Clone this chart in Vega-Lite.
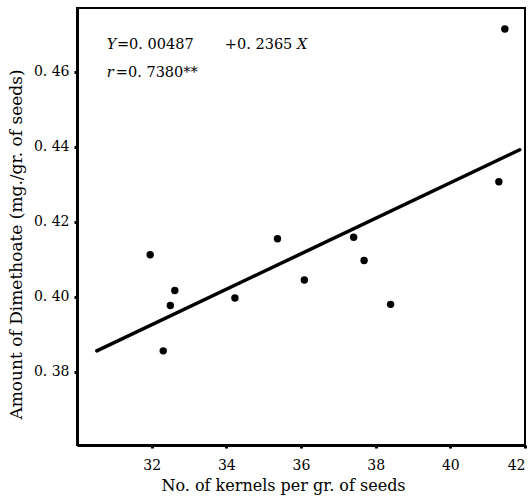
{
  "$schema": "https://vega.github.io/schema/vega-lite/v6.json",
  "width": 448,
  "height": 437,
  "autosize": "none",
  "padding": {"left": 77, "top": 8, "right": 6, "bottom": 57},
  "background": "white",
  "config": {
    "view": {"stroke": "black", "strokeWidth": 2},
    "font": "DejaVu Serif"
  },
  "datasets": {
    "pts": [
      {"kernels": 31.96, "dimethoate": 0.4112},
      {"kernels": 32.62, "dimethoate": 0.4017},
      {"kernels": 32.5, "dimethoate": 0.3977},
      {"kernels": 32.31, "dimethoate": 0.3856},
      {"kernels": 34.23, "dimethoate": 0.3997},
      {"kernels": 35.37, "dimethoate": 0.4155},
      {"kernels": 36.09, "dimethoate": 0.4045},
      {"kernels": 37.41, "dimethoate": 0.4159},
      {"kernels": 37.69, "dimethoate": 0.4097},
      {"kernels": 38.4, "dimethoate": 0.398},
      {"kernels": 41.46, "dimethoate": 0.4714},
      {"kernels": 41.3, "dimethoate": 0.4307}
    ],
    "fit": [
      {"kernels": 30.53, "dimethoate": 0.3856},
      {"kernels": 41.86, "dimethoate": 0.4392}
    ],
    "italic": [
      {"kernels": 30.8, "dimethoate": 0.4672, "label": "Y"},
      {"kernels": 30.8, "dimethoate": 0.4597, "label": "r"},
      {"kernels": 35.89, "dimethoate": 0.4672, "label": "X"}
    ],
    "normal": [
      {"kernels": 31.07, "dimethoate": 0.4672, "label": "=0. 00487"},
      {"kernels": 31.04, "dimethoate": 0.4597, "label": "=0. 7380**"},
      {"kernels": 33.96, "dimethoate": 0.4672, "label": "+0. 2365"}
    ]
  },
  "encoding": {
    "x": {
      "field": "kernels", "type": "quantitative",
      "scale": {"domain": [30, 42], "nice": false, "zero": false},
      "axis": {
        "title": "No. of kernels per gr. of seeds",
        "values": [32, 34, 36, 38, 40, 42],
        "grid": false, "domainColor": "black", "domainWidth": 3,
        "tickColor": "black", "tickSize": 3, "tickWidth": 3,
        "labelFont": "DejaVu Serif", "labelFontSize": 14, "labelColor": "black",
        "labelPadding": 10, "labelFlush": true, "labelFlushOffset": 0,
        "titleFont": "DejaVu Serif", "titleFontSize": 16, "titleFontWeight": "normal",
        "titleColor": "black", "titlePadding": 5, "titleX": 206
      }
    },
    "y": {
      "field": "dimethoate", "type": "quantitative",
      "scale": {"domain": [0.3605, 0.4770], "nice": false, "zero": false},
      "axis": {
        "title": "Amount of Dimethoate (mg./gr. of seeds)",
        "values": [0.38, 0.40, 0.42, 0.44, 0.46],
        "labelExpr": "replace(format(datum.value, '.2f'), '.', '. ')",
        "grid": false, "domainColor": "black", "domainWidth": 3,
        "tickColor": "black", "tickSize": 3, "tickWidth": 3,
        "labelFont": "DejaVu Serif", "labelFontSize": 14, "labelColor": "black",
        "labelPadding": 5,
        "titleFont": "DejaVu Serif", "titleFontSize": 17, "titleFontWeight": "normal",
        "titleColor": "black", "titlePadding": 8, "titleY": 236
      }
    }
  },
  "layer": [
    {
      "data": {"name": "fit"},
      "mark": {"type": "line", "color": "black", "strokeWidth": 3.5, "strokeCap": "round"}
    },
    {
      "data": {"name": "pts"},
      "mark": {"type": "point", "filled": true, "color": "black", "size": 55, "opacity": 1}
    },
    {
      "data": {"name": "italic"},
      "mark": {"type": "text", "align": "left", "baseline": "middle", "font": "DejaVu Serif", "fontStyle": "italic", "fontSize": 14.5, "color": "black"},
      "encoding": {"text": {"field": "label"}}
    },
    {
      "data": {"name": "normal"},
      "mark": {"type": "text", "align": "left", "baseline": "middle", "font": "DejaVu Serif", "fontSize": 14.5, "color": "black"},
      "encoding": {"text": {"field": "label"}}
    }
  ]
}
